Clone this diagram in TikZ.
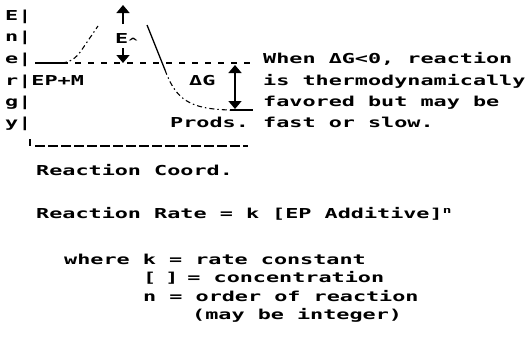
\documentclass[tikz,border=0pt]{standalone}
\usepackage{fontspec}
\newfontfamily\dm{DejaVu Sans Mono}[FakeStretch=1.59]
\usetikzlibrary{arrows.meta}
\tikzset{
  dmtext/.style={font=\dm\bfseries\fontsize{13.7pt}{16pt}\selectfont, inner sep=0pt, anchor=base west},
  lvl/.style={line width=1.3pt},
  dashlvl/.style={line width=1.2pt, dash pattern=on 6pt off 7pt},
  curv/.style={line width=1.1pt, dash pattern=on 5pt off 3pt on 1.5pt off 3pt},
  arr/.style={line width=1.5pt, -{Triangle[width=13pt,length=8pt]}},
  darr/.style={line width=1.5pt, {Triangle[width=13pt,length=8pt]}-{Triangle[width=13pt,length=8pt]}}
}
\begin{document}
\begin{tikzpicture}[x=1pt,y=-1pt]
\useasboundingbox (0,0) rectangle (529,340);
% energy axis letters
\node[dmtext] (lE) at (5,20) {E|};
\node[dmtext] (ln) at (5,41) {n|};
\node[dmtext] (le) at (5,63) {e|};
\node[dmtext] (lr) at (5,85) {r|EP+M};
\node[dmtext] (lg) at (5,106) {g|};
\node[dmtext] (ly) at (5,127) {y|};
% labels in graph
\node[dmtext] (ea) at (115,43) {E\raisebox{-2.5pt}{\fontsize{10pt}{10pt}\selectfont\textasciicircum}};
\node[dmtext] (dg) at (189,85) {ΔG};
\node[dmtext] (pr) at (170,127) {Prods.};
% side note
\node[dmtext] (w1) at (263,63) {When ΔG<0, reaction};
\node[dmtext] (w2) at (263,85) {is thermodynamically};
\node[dmtext] (w3) at (263,106) {favored but may be};
\node[dmtext] (w4) at (263,127) {fast or slow.};
% lower text
\node[dmtext] (rc) at (36,175) {Reaction Coord.};
\node[dmtext] (rr) at (36,218) {Reaction Rate = k [EP Additive]\raisebox{5pt}{\fontsize{9pt}{9pt}\selectfont n}};
\node[dmtext] (wk) at (64,264) {where k = rate constant};
\node[dmtext] (wc) at (143,282.5) {[\kern9pt]\kern9pt= concentration};
\node[dmtext] (wn) at (143,301) {n = order of reaction};
\node[dmtext] (wm) at (192,319.5) {(may be integer)};
% coordinates
\coordinate (r0) at (35,63);
\coordinate (r1) at (62,63);
\coordinate (dEnd) at (253,63);
\coordinate (pkL) at (98,26);
\coordinate (pkR) at (147,25);
\coordinate (pm) at (165,70);
\coordinate (p1) at (230,110);
\coordinate (p2) at (253,110);
\coordinate (eaTop) at (123,5);
\coordinate (eaU) at (123,24);
\coordinate (eaD) at (123,48);
\coordinate (eaBot) at (123,63);
\coordinate (dgTop) at (235,65);
\coordinate (dgBot) at (235,109);
\coordinate (ax0) at (30,139);
\coordinate (ax1) at (30,146);
\coordinate (ax2) at (35,146);
\coordinate (ax3) at (248,146);
% levels and curve
\draw[lvl] (r0) -- (r1);
\draw[dashlvl] (r1) -- (dEnd);
\draw[curv] (r1) .. controls (72,62) and (78,56) .. (83,48) -- (pkL);
\draw[lvl] (pkR) -- (pm);
\draw[curv] (pm) .. controls (176,100) and (190,109) .. (p1);
\draw[lvl] (p1) -- (p2);
% arrows
\draw[arr] (eaU) -- (eaTop);
\draw[arr] (eaD) -- (eaBot);
\draw[darr] (dgTop) -- (dgBot);
% reaction coordinate axis
\draw[line width=1.2pt] (ax0) -- (ax1);
\draw[line width=1.3pt, dash pattern=on 10pt off 3pt] (ax2) -- (ax3);
\end{tikzpicture}
\end{document}
